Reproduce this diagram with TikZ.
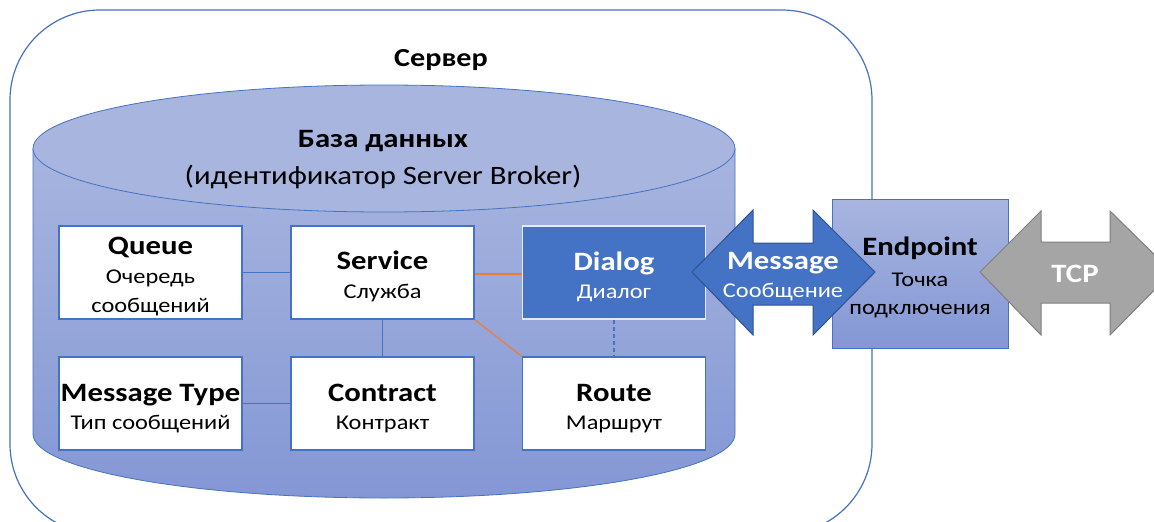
\documentclass[tikz,border=0pt]{standalone}
\usepackage{fontspec}
\setmainfont{Carlito}[FakeStretch=1.16]
\definecolor{msblue}{HTML}{4472C4}
\definecolor{msdark}{HTML}{2F528F}
\definecolor{msorange}{HTML}{ED7D31}
\definecolor{msgray}{HTML}{A5A5A5}
\definecolor{msgraydark}{HTML}{7F7F7F}
\definecolor{cyltop}{HTML}{A7B5DF}
\definecolor{cylbot}{HTML}{8497D5}
\newcommand{\ttl}{\fontsize{26.5}{30}\selectfont\bfseries}
\newcommand{\sbt}{\fontsize{21}{28.3}\selectfont}
\tikzset{
  box/.style={draw=msblue, line width=1.2pt, fill=white, minimum width=183pt, minimum height=93pt, inner sep=0pt},
  dbox/.style={box, fill=msblue, draw=white!85!msblue, line width=1.6pt},
  btxt/.style={inner sep=0pt, align=center, font=\sbt, yshift=-4pt},
  link/.style={draw=msblue, line width=1.2pt},
  olink/.style={draw=msorange, line width=1.2pt},
  dlink/.style={draw=msblue, line width=1.2pt, dash pattern=on 4pt off 3pt},
  lbl/.style={inner sep=0pt, align=center, font=\sbt}
}
\begin{document}
\begin{tikzpicture}[x=1pt, y=-1pt]
\clip (0,0) rectangle (1154,522);
\fill[white] (0,0) rectangle (1154,522);
% server
\draw[msblue, line width=1.2pt, rounded corners=90pt] (10,10) rectangle (872,534);
\node[lbl] (server) at (441,60) {\fontsize{26}{30}\selectfont\bfseries Сервер};
% cylinder
\shade[top color=cyltop, bottom color=cylbot] (33,148.5) -- (33,434) arc[start angle=180, end angle=0, x radius=351, y radius=64] -- (735,148.5) -- cycle;
\draw[msblue, line width=0.8pt] (33,148.5) -- (33,434) arc[start angle=180, end angle=0, x radius=351, y radius=64] -- (735,148.5);
\draw[msblue, line width=0.8pt, fill=cyltop] (384,148.5) ellipse[x radius=351, y radius=63.5];
\node[lbl] (db) at (383,141) {\fontsize{26.5}{30}\selectfont\bfseries База данных};
\node[lbl] (dbid) at (383,177) {\fontsize{26.5}{30}\selectfont (идентификатор Server Broker)};
% boxes
\node[box, label={[btxt, name=queue-t]center:{{\ttl Queue}\\[1.5pt]Очередь\\[0.5pt]сообщений}}] (queue) at (150.5,272.5) {};
\node[box, label={[btxt, name=service-t]center:{{\ttl Service}\\[0pt]Служба}}] (service) at (382.5,272.5) {};
\node[dbox, label={[btxt, text=white, name=dialog-t]center:{{\ttl Dialog}\\[0pt]Диалог}}] (dialog) at (614,272.5) {};
\node[box, label={[btxt, yshift=-1pt, name=msgtype-t]center:{{\ttl Message Type}\\[0pt]Тип сообщений}}] (msgtype) at (150.5,403.5) {};
\node[box, label={[btxt, yshift=-1pt, name=contract-t]center:{{\ttl Contract}\\[0pt]Контракт}}] (contract) at (382.5,403.5) {};
\node[box, label={[btxt, yshift=-1pt, name=route-t]center:{{\ttl Route}\\[0pt]Маршрут}}] (route) at (614,403.5) {};
% connectors
\draw[link] (queue) -- (service);
\draw[olink] (service.east |- 0,274) -- (dialog.west |- 0,274);
\draw[link] (service) -- (contract);
\draw[olink] (service.south east) -- (route.north west);
\draw[dlink] (dialog) -- (route);
\draw[link] (msgtype) -- (contract);
% endpoint
\node[draw=msblue, line width=0.8pt, top color=cyltop, bottom color=cylbot, minimum width=176pt, minimum height=149pt, inner sep=0pt] (endpoint) at (920,273.5) {};
\node[lbl] (eptext) at (920,277.5) {{\ttl Endpoint}\\[2.5pt]Точка\\[0.5pt]подключения};
% message arrow
\draw[fill=msblue, draw=msdark, line width=1pt, line join=miter] (692,272) -- (753,210) -- (753,243) -- (813,243) -- (813,210) -- (875,272) -- (813,335) -- (813,305) -- (753,305) -- (753,335) -- cycle;
\node[lbl, text=white] (message) at (783,276.5) {{\ttl Message}\\[0pt]Сообщение};
% tcp arrow
\draw[fill=msgray, draw=msgraydark, line width=1pt, line join=miter] (980,272) -- (1041,211) -- (1041,242) -- (1110,242) -- (1110,211) -- (1172,272) -- (1110,335) -- (1110,303) -- (1041,303) -- (1041,335) -- cycle;
\node[lbl, text=white] (tcp) at (1075,274) {\ttl TCP};
\end{tikzpicture}
\end{document}
